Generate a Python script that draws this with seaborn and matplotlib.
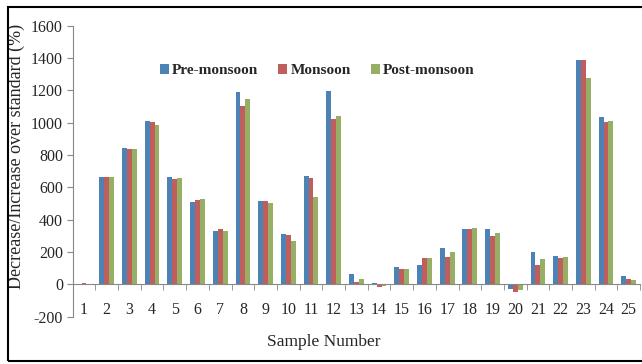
import numpy as np
import pandas as pd
import matplotlib
matplotlib.use("Agg")
import matplotlib.pyplot as plt
import seaborn as sns
from matplotlib.patches import Rectangle
from matplotlib.ticker import FixedLocator

sns.set_style("white")
plt.rcParams['font.family'] = ['Liberation Serif', 'DejaVu Serif']
plt.rcParams['axes.unicode_minus'] = False

samples = [str(i) for i in range(1, 26)]
pre_monsoon = [2, 665, 845, 1013, 664, 509, 328, 1188, 514, 309, 670, 1194, 64,
               8, 105, 122, 225, 340, 344, -31, 202, 177, 1390, 1037, 52]
monsoon = [10, 665, 838, 1002, 652, 522, 340, 1103, 514, 303, 658, 1025, 14,
           -19, 93, 161, 171, 344, 297, -45, 122, 161, 1390, 1007, 31]
post_monsoon = [3, 665, 838, 988, 658, 528, 330, 1147, 501, 268, 540, 1040, 31,
                -12, 93, 165, 200, 351, 316, -37, 155, 171, 1275, 1013, 27]
seasons = ['Pre-monsoon', 'Monsoon', 'Post-monsoon']
colors = ['#3C82C6', '#CF4E4B', '#9BBB59']

df = pd.DataFrame({
    'Sample': samples * 3,
    'Season': np.repeat(seasons, len(samples)),
    'Value': pre_monsoon + monsoon + post_monsoon,
})

fig = plt.figure(figsize=(6.42, 3.64), dpi=100)
ax = fig.add_axes([0.1132, 0.130, 0.997 - 0.1132, 0.9294 - 0.130])

sns.barplot(data=df, x='Sample', y='Value', hue='Season', order=samples,
            hue_order=seasons, palette=colors, width=0.65, linewidth=0,
            errorbar=None, ax=ax)

ax.set_xlim(-0.5, len(samples) - 0.5)
ax.set_ylim(-200, 1600)
ax.set_yticks(range(-200, 1601, 200))

# spines like Excel: grey left axis, x axis on zero line
for s in ['top', 'right']:
    ax.spines[s].set_visible(False)
ax.spines['left'].set_color('#888888')
ax.spines['bottom'].set_color('#888888')
ax.spines['bottom'].set_position(('data', 0))

ax.tick_params(axis='y', direction='out', length=4, color='#888888',
               labelsize=11.5, pad=3, left=True)
ax.tick_params(axis='x', which='major', length=0, labelsize=11.5, pad=13)
ax.xaxis.set_minor_locator(FixedLocator(np.arange(0.5, len(samples), 1)))
ax.tick_params(axis='x', which='minor', direction='out', length=4,
               color='#888888', bottom=True)

ax.set_xlabel('Sample Number', fontsize=12.5)
ax.xaxis.set_label_coords(0.443, -0.06)
ax.set_ylabel('Decrease/Increase over standard (%)', fontsize=13)
ax.yaxis.set_label_coords(-0.084, 0.552)

leg = ax.legend(loc='center', bbox_to_anchor=(0.431, 0.845), ncol=3, frameon=False,
                prop={'weight': 'bold', 'size': 11}, handlelength=0.6,
                handleheight=0.6, handletextpad=0.2, columnspacing=1.3)

fig.patches.append(Rectangle((8 / 642, 3 / 364), 1.0, 354 / 364,
                             transform=fig.transFigure, fill=False,
                             edgecolor='black', linewidth=1.5))

fig.savefig('out.png', dpi=100)
